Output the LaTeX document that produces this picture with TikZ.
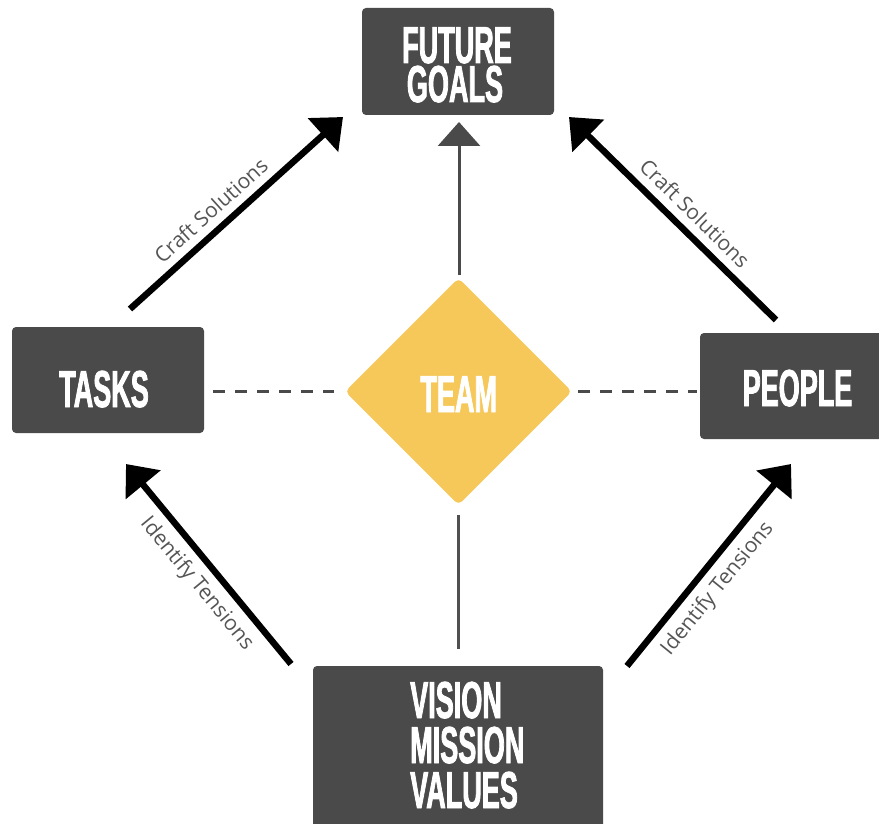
\documentclass[tikz,border=0pt]{standalone}
\usepackage{fontspec}
\setmainfont{Open Sans}
\newfontfamily\bebas[FakeStretch=0.52,FakeBold=1.5]{Liberation Sans}
\usetikzlibrary{arrows.meta,shapes.geometric}
\definecolor{boxgray}{HTML}{4A4A4A}
\definecolor{linegray}{HTML}{505050}
\definecolor{teamyellow}{HTML}{F6C85A}
\definecolor{labelgray}{HTML}{555555}
\begin{document}
\begin{tikzpicture}[x=1pt,y=-1pt,
  box/.style={draw=none,fill=boxgray,rounded corners=4pt,inner sep=0pt},
  title/.style={text=white,font=\bebas\bfseries\fontsize{52}{52}\selectfont,inner sep=0pt,anchor=base},
  thickarrow/.style={draw=black,line width=6.5pt,-{Triangle[length=27pt,width=44pt]}},
  grayarrow/.style={draw=boxgray,line width=3pt,-{Triangle[length=24pt,width=42pt]}},
  grayline/.style={draw=linegray,line width=3pt},
  dashline/.style={draw=boxgray,line width=3pt,dash pattern=on 12pt off 10pt},
  lbl/.style={font=\fontsize{21}{21}\selectfont,text=labelgray,inner sep=0pt}
]
\path[use as bounding box] (0,0) rectangle (879,824);
\clip (0,0) rectangle (879,824);

% boxes
\node[box,minimum width=192pt,minimum height=107pt] (goals) at (458,61.5) {};
\node[box,minimum width=192pt,minimum height=106pt] (tasks) at (108,380) {};
\node[box,minimum width=190pt,minimum height=106pt] (people) at (795,386) {};
\node[box,minimum width=290pt,minimum height=170pt] (vision) at (458,751) {};
\node[diamond,fill=teamyellow,minimum width=227pt,minimum height=227pt,inner sep=0pt,rounded corners=5pt] (team) at (458.5,391.5) {};

% texts
\node[title] (t-future) at (457,63) {FUTURE};
\node[title] (t-goals) at (455,102) {GOALS};
\node[title] (t-tasks) at (104,407) {TASKS};
\node[title] (t-people) at (797.5,406) {PEOPLE};
\node[title] (t-team) at (458.7,412) {TEAM};
\node[title,anchor=base west] (t-vision) at (410,718) {VISION};
\node[title,anchor=base west] (t-mission) at (410,763) {MISSION};
\node[title,anchor=base west] (t-values) at (410,808) {VALUES};

% connector end points
\coordinate (vtop) at (459,275);
\coordinate (vtip) at (459,122);
\coordinate (vbot1) at (458,515);
\coordinate (vbot2) at (458,649);
\coordinate (dl1) at (213,391);
\coordinate (dl2) at (334,391);
\coordinate (dr1) at (578,391);
\coordinate (dr2) at (697,391);
\coordinate (tlA) at (130,309);
\coordinate (tlB) at (343,117);
\coordinate (trA) at (776,320);
\coordinate (trB) at (569,117);
\coordinate (blA) at (291,664);
\coordinate (blB) at (126,464);
\coordinate (brA) at (627,666);
\coordinate (brB) at (791,464);

% connectors
\draw[grayarrow] (vtop) -- (vtip);
\draw[grayline] (vbot1) -- (vbot2);
\draw[dashline] (dl1) -- (dl2);
\draw[dashline] (dr1) -- (dr2);

\draw[thickarrow] (tlA) -- node[pos=0.44,sloped,above=8pt,lbl] (l-tl) {Craft Solutions} (tlB);
\draw[thickarrow] (trA) -- node[pos=0.457,sloped,above=8pt,lbl] (l-tr) {Craft Solutions} (trB);
\draw[thickarrow] (blA) -- node[pos=0.47,sloped,below=8pt,lbl] (l-bl) {Identify Tensions} (blB);
\draw[thickarrow] (brA) -- node[pos=0.45,sloped,below=8pt,lbl] (l-br) {Identify Tensions} (brB);
\end{tikzpicture}
\end{document}
